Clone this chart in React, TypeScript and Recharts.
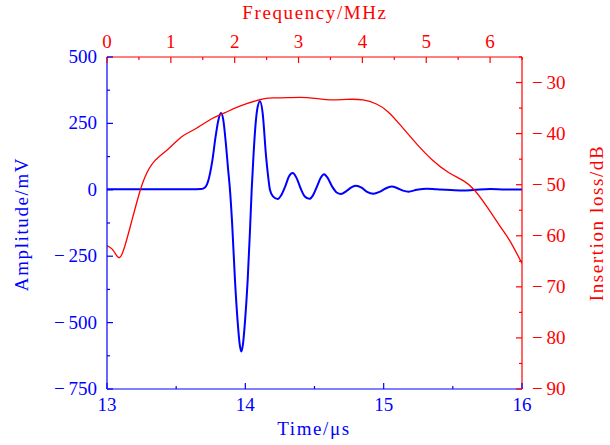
import React from 'react';
import { LineChart, Line, XAxis, YAxis } from 'recharts';

// time signal (μs, mV)
const timeUs = [
  13.0, 13.3, 13.6, 13.68, 13.71, 13.735, 13.76, 13.785, 13.805, 13.824, 13.84, 13.86, 13.875, 13.889,
  13.905, 13.925, 13.945, 13.96, 13.971, 13.982, 13.997, 14.017, 14.033, 14.046, 14.058, 14.07, 14.085,
  14.106, 14.125, 14.15, 14.165, 14.178, 14.2, 14.234, 14.26, 14.29, 14.315, 14.342, 14.37, 14.4, 14.43,
  14.463, 14.49, 14.52, 14.545, 14.569, 14.595, 14.63, 14.66, 14.692, 14.73, 14.77, 14.8, 14.84, 14.88,
  14.925, 14.97, 15.01, 15.058, 15.1, 15.14, 15.18, 15.24, 15.31, 15.38, 15.45, 15.57, 15.66, 15.77, 15.88, 16.0,
];
const amplitudeMv = [
  2, 2, 2, 3, 10, 40, 105, 200, 262, 289, 265, 170, 80, 0,
  -130, -339, -500, -585, -609, -585, -500, -339, -160, 0, 120, 220, 300,
  333, 290, 125, 50, 0, -25, -35, -20, 15, 50, 63, 45, 5, -25,
  -34, -20, 15, 45, 59, 45, 10, -10, -16, -5, 10, 15, 8, -8,
  -15, -8, 4, 12, 6, -3, -7, 0, 4, 2, 0, -3, 0, 3, 1, 1,
];

// frequency response (MHz, dB)
const freqMhz = [
  0, 0.1, 0.19, 0.28, 0.39, 0.49, 0.595, 0.75, 0.96, 1.17, 1.38, 1.64, 1.85, 2.08, 2.45, 2.66, 3.02, 3.25,
  3.49, 3.75, 4.01, 4.22, 4.4, 4.6, 4.85, 5.1, 5.35, 5.58, 5.75, 5.95, 6.16, 6.31, 6.5,
];
const lossDb = [
  -61.9, -62.9, -64.3, -62.0, -57.0, -52.4, -48.5, -45.3, -43.0, -40.6, -39.1, -37.1, -35.9, -34.6, -33.2,
  -33.0, -32.9, -33.1, -33.4, -33.3, -33.4, -34.2, -35.7, -38.4, -42.0, -45.2, -47.6, -49.2, -51.0, -54.3,
  -58.2, -61.0, -65.4,
];

const timeTicks = [13, 13.5, 14, 14.5, 15, 15.5, 16];
const freqTicks = [0, 0.5, 1, 1.5, 2, 2.5, 3, 3.5, 4, 4.5, 5, 5.5, 6, 6.5];
const ampTicks = [-750, -625, -500, -375, -250, -125, 0, 125, 250, 375, 500];
const lossTicks = [-90, -85, -80, -75, -70, -65, -60, -55, -50, -45, -40, -35, -30, -25];

const signal = timeUs.map((t, i) => ({ t, a: amplitudeMv[i] }));
const response = freqMhz.map((f, i) => ({ f, db: lossDb[i] }));

const BLUE = '#0000ff';
const RED = '#ff0000';
const textStyle = { fontFamily: "'Liberation Serif', 'DejaVu Serif', serif", fontSize: 19 };

const num = (v: number) => (v < 0 ? '\u2212\u2009' + Math.abs(v) : String(v));

const BottomTick = ({ x, y, payload }: any) => {
  const major = Number.isInteger(payload.value);
  return (
    <g>
      <line x1={x} x2={x} y1={y} y2={y - (major ? 6 : 3)} stroke={BLUE} strokeWidth={1.2} />
      {major && (
        <text x={x} y={y + 22} textAnchor="middle" fill={BLUE} style={textStyle}>
          {payload.value}
        </text>
      )}
    </g>
  );
};

const TopTick = ({ x, y, payload }: any) => {
  const major = Number.isInteger(payload.value);
  return (
    <g>
      <line x1={x} x2={x} y1={y} y2={y + (major ? 6 : 3)} stroke={RED} strokeWidth={1.2} />
      {major && (
        <text x={x} y={y - 9} textAnchor="middle" fill={RED} style={textStyle}>
          {payload.value}
        </text>
      )}
    </g>
  );
};

const LeftTick = ({ x, y, payload }: any) => {
  const major = payload.value % 250 === 0;
  return (
    <g>
      <line x1={x} x2={x + (major ? 6 : 3)} y1={y} y2={y} stroke={BLUE} strokeWidth={1.2} />
      {major && (
        <text x={x - 10} y={y + 6} textAnchor="end" fill={BLUE} style={textStyle}>
          {num(payload.value)}
        </text>
      )}
    </g>
  );
};

const RightTick = ({ x, y, payload }: any) => {
  const major = payload.value % 10 === 0;
  return (
    <g>
      <line x1={x} x2={x - (major ? 6 : 3)} y1={y} y2={y} stroke={RED} strokeWidth={1.2} />
      {major && (
        <text x={x + 10} y={y + 6} textAnchor="start" fill={RED} style={textStyle}>
          {num(payload.value)}
        </text>
      )}
    </g>
  );
};

const title = (text: string, x: number, y: number, color: string, rotate = false) => () => (
  <text
    x={x}
    y={y}
    textAnchor="middle"
    fill={color}
    style={{ ...textStyle, letterSpacing: 1.6 }}
    transform={rotate ? `rotate(-90 ${x} ${y})` : undefined}
  >
    {text}
  </text>
);

export default function App() {
  return (
    <div style={{ position: 'absolute', left: 0, top: 0 }}>
      <LineChart width={610} height={445} margin={{ top: 0, right: 0, bottom: 0, left: 0 }}>
        <XAxis
          xAxisId="time"
          orientation="bottom"
          type="number"
          dataKey="t"
          domain={[13, 16]}
          ticks={timeTicks}
          interval={0}
          height={56}
          tickSize={0}
          tickMargin={0}
          tick={<BottomTick />}
          tickLine={false}
          axisLine={{ stroke: BLUE, strokeWidth: 1.2 }}
          allowDataOverflow
          label={title('Time/\u03bcs', 314, 435, BLUE)}
        />
        <XAxis
          xAxisId="freq"
          orientation="top"
          type="number"
          dataKey="f"
          domain={[0, 6.5]}
          ticks={freqTicks}
          interval={0}
          height={57}
          tickSize={0}
          tickMargin={0}
          tick={<TopTick />}
          tickLine={false}
          axisLine={{ stroke: RED, strokeWidth: 1.2 }}
          allowDataOverflow
          label={title('Frequency/MHz', 315, 19, RED)}
        />
        <YAxis
          yAxisId="amp"
          orientation="left"
          type="number"
          domain={[-750, 500]}
          ticks={ampTicks}
          interval={0}
          width={107}
          tickSize={0}
          tickMargin={0}
          tick={<LeftTick />}
          tickLine={false}
          axisLine={{ stroke: BLUE, strokeWidth: 1.2 }}
          allowDataOverflow
          label={title('Amplitude/mV', 28, 224, BLUE, true)}
        />
        <YAxis
          yAxisId="loss"
          orientation="right"
          type="number"
          domain={[-90, -25]}
          ticks={lossTicks}
          interval={0}
          width={88}
          tickSize={0}
          tickMargin={0}
          tick={<RightTick />}
          tickLine={false}
          axisLine={{ stroke: RED, strokeWidth: 1.2 }}
          allowDataOverflow
          label={title('Insertion loss/dB', 603, 223, RED, true)}
        />
        <Line
          xAxisId="time"
          yAxisId="amp"
          data={signal}
          dataKey="a"
          type="monotone"
          stroke={BLUE}
          strokeWidth={2}
          dot={false}
          activeDot={false}
          isAnimationActive={false}
        />
        <Line
          xAxisId="freq"
          yAxisId="loss"
          data={response}
          dataKey="db"
          type="natural"
          stroke={RED}
          strokeWidth={1.3}
          dot={false}
          activeDot={false}
          isAnimationActive={false}
        />
      </LineChart>
    </div>
  );
}
